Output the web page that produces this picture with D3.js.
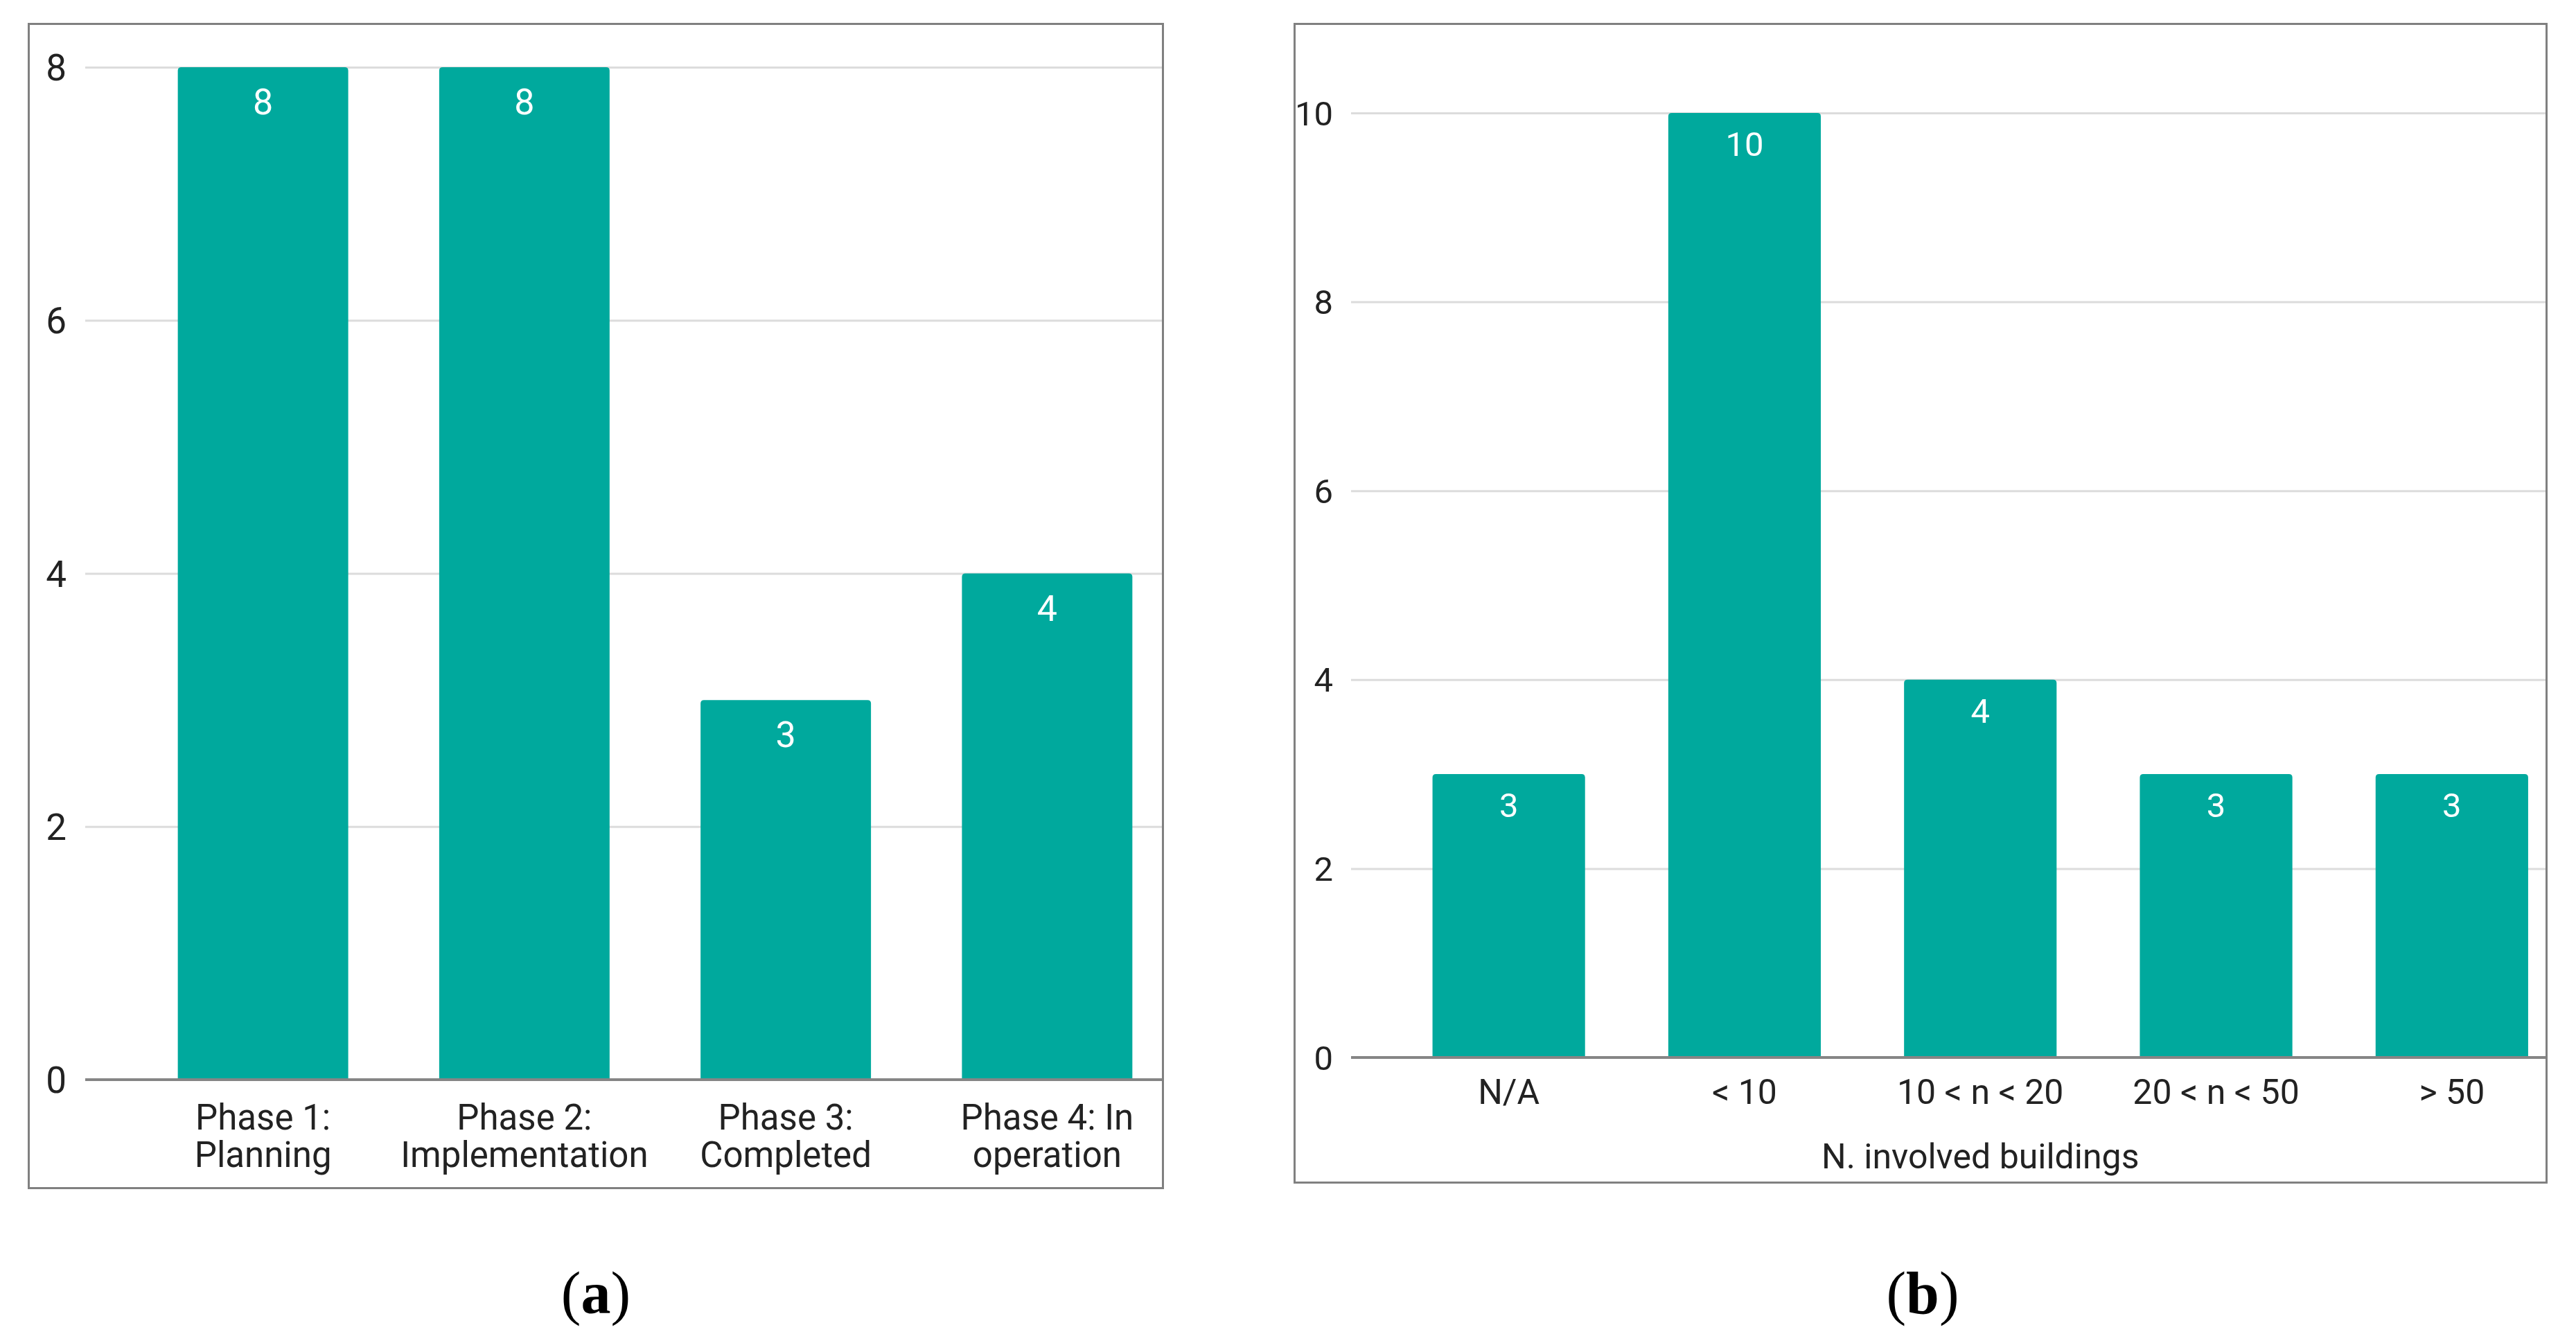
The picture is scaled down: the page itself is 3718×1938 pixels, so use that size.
<!DOCTYPE html>
<html>
<head>
<meta charset="utf-8">
<script src="https://cdn.jsdelivr.net/npm/d3@7"></script>
<style>
  html, body { margin: 0; padding: 0; background: #fff; }
  svg { display: block; }
</style>
</head>
<body>
<div id="chart"></div>
<script>
// ---- data (a) ----
var phaseCategories = ["Phase 1: Planning", "Phase 2: Implementation", "Phase 3: Completed", "Phase 4: In operation"];
var phaseTickLines = [["Phase 1:", "Planning"], ["Phase 2:", "Implementation"], ["Phase 3:", "Completed"], ["Phase 4: In", "operation"]];
var phaseValues = [8, 8, 3, 4];
var phaseTicks = [0, 2, 4, 6, 8];

// ---- data (b) ----
var buildingCategories = ["N/A", "< 10", "10 < n < 20", "20 < n < 50", "> 50"];
var buildingValues = [3, 10, 4, 3, 3];
var buildingTicks = [0, 2, 4, 6, 8, 10];
var buildingAxisTitle = "N. involved buildings";

var BAR = "#00a99d";
var TEXT = "#222222";

var svg = d3.select("#chart").append("svg")
    .attr("width", 3718)
    .attr("height", 1938);

svg.append("rect").attr("width", 3718).attr("height", 1938).attr("fill", "#fff");

function topRounded(x, y, w, h, r) {
    r = Math.min(r, w / 2, h);
    return "M" + x + "," + (y + h) +
        "V" + (y + r) +
        "Q" + x + "," + y + " " + (x + r) + "," + y +
        "H" + (x + w - r) +
        "Q" + (x + w) + "," + y + " " + (x + w) + "," + (y + r) +
        "V" + (y + h) + "Z";
}

function drawPanel(cfg) {
    var g = svg.append("g");

    var x = d3.scaleBand()
        .domain(cfg.categories)
        .range(cfg.xRange)
        .paddingInner(cfg.padInner)
        .paddingOuter(cfg.padInner / 2);

    var y = d3.scaleLinear()
        .domain([0, d3.max(cfg.ticks)])
        .range(cfg.yRange);

    // grid + y labels
    var yAxis = g.append("g")
        .attr("transform", "translate(" + cfg.gridStart + ",0)")
        .call(d3.axisLeft(y)
            .tickValues(cfg.ticks)
            .tickSize(-(cfg.gridEnd - cfg.gridStart))
            .tickPadding(cfg.tickPad));
    yAxis.select(".domain").remove();
    yAxis.selectAll("line").attr("stroke", "#dcdcdc").attr("stroke-width", 3);
    yAxis.selectAll("text")
        .attr("fill", TEXT)
        .attr("font-family", "Roboto")
        .attr("font-size", cfg.tickFont)
        .attr("dy", "0.35em");

    // bars
    var data = cfg.categories.map(function(c, i) { return {cat: c, value: cfg.values[i]}; });

    g.selectAll("path.bar")
        .data(data)
        .enter().append("path")
        .attr("class", "bar")
        .attr("fill", BAR)
        .attr("d", function(d) {
            return topRounded(x(d.cat), y(d.value), x.bandwidth(), y(0) - y(d.value), 5);
        });

    g.selectAll("text.val")
        .data(data)
        .enter().append("text")
        .attr("class", "val")
        .attr("x", function(d) { return x(d.cat) + x.bandwidth() / 2; })
        .attr("y", function(d) { return y(d.value) + cfg.valOffset; })
        .attr("text-anchor", "middle")
        .attr("fill", "#fff")
        .attr("font-family", "Roboto")
        .attr("font-size", cfg.valFont)
        .text(function(d) { return d.value; });

    // baseline
    g.append("line")
        .attr("x1", cfg.gridStart).attr("x2", cfg.gridEnd)
        .attr("y1", y(0)).attr("y2", y(0))
        .attr("stroke", "#858585")
        .attr("stroke-width", 4);

    // x labels
    var xAxis = g.append("g")
        .attr("transform", "translate(0," + y(0) + ")")
        .call(d3.axisBottom(x).tickSize(0));
    xAxis.select(".domain").remove();
    xAxis.selectAll("text").each(function(d, i) {
        var t = d3.select(this)
            .attr("y", 0).attr("dy", null)
            .attr("fill", TEXT)
            .attr("font-family", "Roboto")
            .attr("font-size", cfg.catFont)
            .text(null);
        cfg.tickLines[i].forEach(function(line, k) {
            t.append("tspan")
                .attr("x", 0)
                .attr("y", cfg.catBase + k * cfg.catLine)
                .text(line);
        });
    });

    if (cfg.axisTitle) {
        g.append("text")
            .attr("x", (cfg.xRange[0] + cfg.xRange[1]) / 2 + cfg.titleShift)
            .attr("y", cfg.titleY)
            .attr("text-anchor", "middle")
            .attr("fill", TEXT)
            .attr("font-family", "Roboto")
            .attr("font-size", cfg.catFont)
            .text(cfg.axisTitle);
    }

    // frame
    g.append("rect")
        .attr("x", cfg.box[0]).attr("y", cfg.box[1])
        .attr("width", cfg.box[2] - cfg.box[0])
        .attr("height", cfg.box[3] - cfg.box[1])
        .attr("fill", "none")
        .attr("stroke", "#808080")
        .attr("stroke-width", 3);

    // caption
    var cap = svg.append("text")
        .attr("x", cfg.capX).attr("y", 1895)
        .attr("text-anchor", "middle")
        .attr("font-family", "'Liberation Serif', 'Times New Roman', serif")
        .attr("font-size", 86)
        .attr("fill", "#000");
    cap.append("tspan").text("(");
    cap.append("tspan").attr("font-weight", "bold").text(cfg.capLetter);
    cap.append("tspan").text(")");
}

drawPanel({
    categories: phaseCategories,
    tickLines: phaseTickLines,
    values: phaseValues,
    ticks: phaseTicks,
    xRange: [191, 1700],
    padInner: 0.348,
    yRange: [1558, 97],
    gridStart: 123,
    gridEnd: 1678,
    tickPad: 27,
    tickFont: 53,
    valFont: 52,
    valOffset: 68,
    catFont: 51,
    catBase: 72,
    catLine: 54,
    box: [41.5, 34.5, 1678.5, 1714.5],
    capX: 860,
    capLetter: "a"
});

drawPanel({
    categories: buildingCategories,
    tickLines: buildingCategories.map(function(c) { return [c]; }),
    values: buildingValues,
    ticks: buildingTicks,
    xRange: [2007.5, 3709],
    padInner: 0.353,
    yRange: [1526, 163],
    gridStart: 1950,
    gridEnd: 3674,
    tickPad: 26,
    tickFont: 49,
    valFont: 49,
    valOffset: 62,
    catFont: 50,
    catBase: 67,
    catLine: 0,
    axisTitle: buildingAxisTitle,
    titleShift: 0,
    titleY: 1686,
    box: [1868.5, 34.5, 3675.5, 1706.5],
    capX: 2775,
    capLetter: "b"
});
</script>
</body>
</html>
